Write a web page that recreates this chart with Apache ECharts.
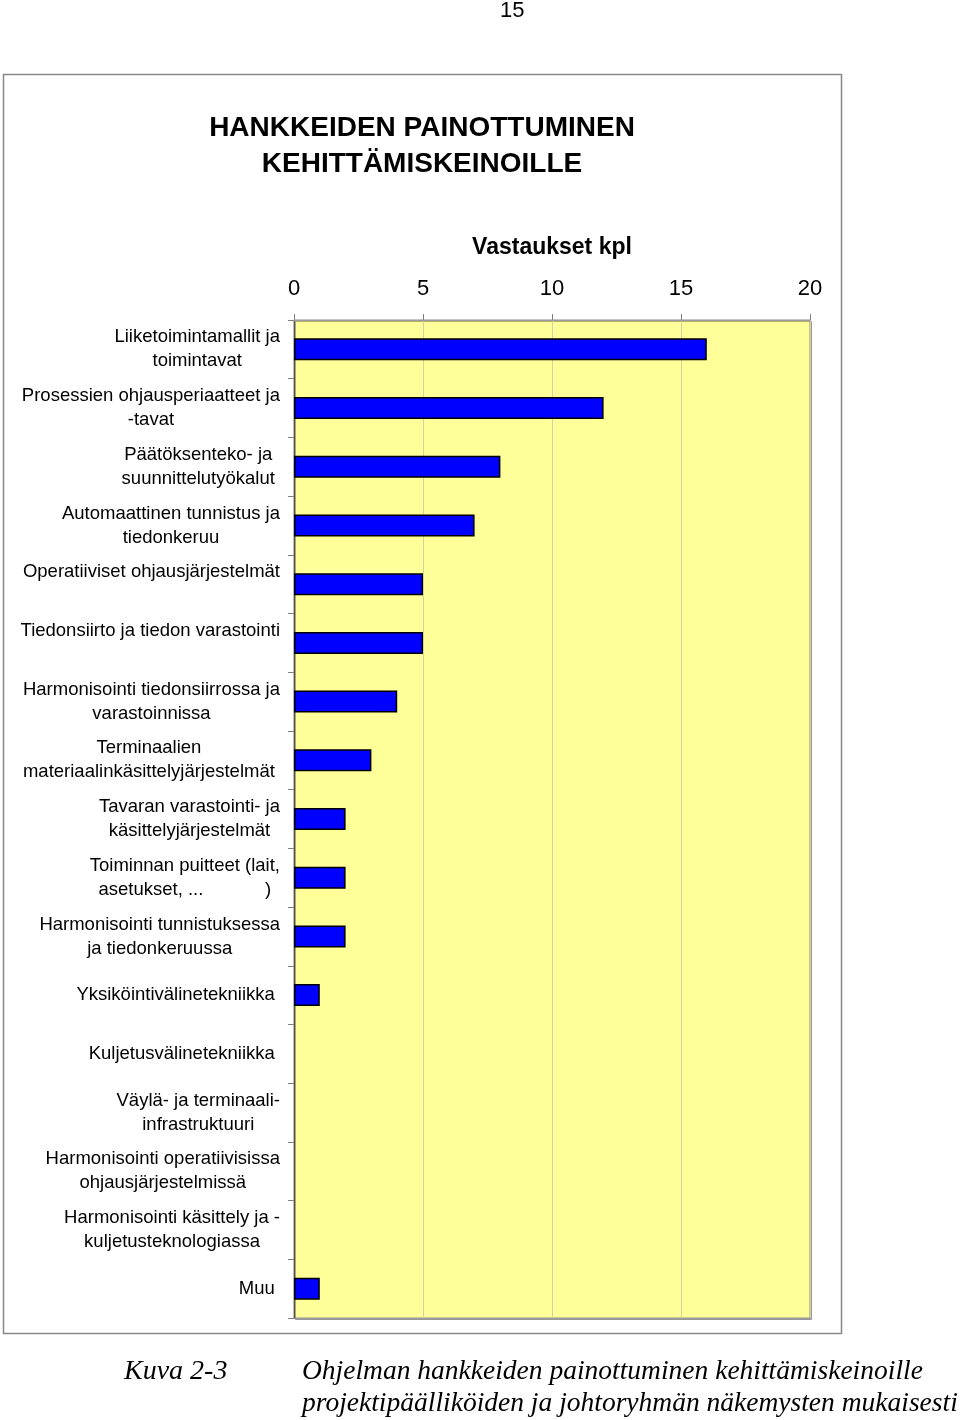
<!DOCTYPE html>
<html>
<head>
<meta charset="utf-8">
<script src="https://cdn.jsdelivr.net/npm/echarts@6/dist/echarts.min.js"></script>
<style>
html,body{margin:0;padding:0;background:#fff;}
#chart{width:960px;height:1420px;}
</style>
</head>
<body>
<div id="chart"></div>
<script>
const categories = [
  "Liiketoimintamallit ja\ntoimintavat",
  "Prosessien ohjausperiaatteet ja\n-tavat",
  "Päätöksenteko- ja \nsuunnittelutyökalut ",
  "Automaattinen tunnistus ja\ntiedonkeruu",
  "Operatiiviset ohjausjärjestelmät\n ",
  "Tiedonsiirto ja tiedon varastointi\n ",
  "Harmonisointi tiedonsiirrossa ja\nvarastoinnissa",
  "Terminaalien \nmateriaalinkäsittelyjärjestelmät ",
  "Tavaran varastointi- ja\nkäsittelyjärjestelmät",
  "Toiminnan puitteet (lait,\nasetukset, ...            )",
  "Harmonisointi tunnistuksessa\nja tiedonkeruussa",
  "Yksiköintivälinetekniikka ",
  "Kuljetusvälinetekniikka ",
  "Väylä- ja terminaali-\ninfrastruktuuri",
  "Harmonisointi operatiivisissa\nohjausjärjestelmissä",
  "Harmonisointi käsittely ja -\nkuljetusteknologiassa",
  "Muu "
];
const values = [16, 12, 8, 7, 5, 5, 4, 3, 2, 2, 2, 1, 0, 0, 0, 0, 1];
const xTicks = [0, 5, 10, 15, 20];
const titleText = "HANKKEIDEN PAINOTTUMINEN\nKEHITTÄMISKEINOILLE";
const axisTitle = "Vastaukset kpl";
const pageNumber = "15";
const captionLabel = "Kuva 2-3";
const captionLines = [
  "Ohjelman hankkeiden painottuminen kehittämiskeinoille",
  "projektipäälliköiden ja johtoryhmän näkemysten mukaisesti"
];

const chart = echarts.init(document.getElementById('chart'), null, {renderer: 'canvas'});
const sans = '"Liberation Sans", Arial, sans-serif';
const serif = '"Liberation Serif", "Times New Roman", serif';

const barData = values.map(v => v === 0 ? {value: v, itemStyle: {borderWidth: 0}} : v);

chart.setOption({
  animation: false,
  backgroundColor: '#ffffff',
  title: {
    text: titleText,
    left: 417, top: 105, textAlign: 'center',
    textStyle: {fontFamily: sans, fontSize: 28, fontWeight: 'bold', color: '#000', lineHeight: 36}
  },
  grid: {
    left: 294, top: 320, right: 150, bottom: 102,
    show: true, backgroundColor: '#FFFF99',
    borderColor: '#8a8a8a', borderWidth: 1,
    shadowColor: 'rgba(0,0,0,0.3)', shadowOffsetX: 1.5, shadowOffsetY: 1.5, shadowBlur: 0
  },
  xAxis: {
    type: 'value', position: 'top', min: 0, max: 20, interval: 5,
    name: axisTitle, nameLocation: 'middle', nameGap: 61,
    nameTextStyle: {fontFamily: sans, fontSize: 23, fontWeight: 'bold', color: '#000'},
    axisLine: {show: true, lineStyle: {color: '#9a9a9a', width: 1}},
    axisTick: {show: true, length: 6, lineStyle: {color: '#808080'}},
    axisLabel: {
      margin: 20, fontFamily: sans, fontSize: 22, color: '#000',
      formatter: v => xTicks.indexOf(v) >= 0 ? String(v) : ''
    },
    splitLine: {show: true, lineStyle: {color: '#d2d2a0', width: 1}}
  },
  yAxis: {
    type: 'category', data: categories, inverse: true,
    axisLine: {show: true, lineStyle: {color: '#555', width: 1.2}},
    axisTick: {show: true, length: 6, lineStyle: {color: '#808080'}},
    axisLabel: {
      margin: 14, fontFamily: sans, fontSize: 18.5, color: '#000', lineHeight: 24,
      formatter: s => s.split('\n').map(l => '{c|' + l + '}').join('\n'),
      rich: {c: {align: 'center', fontFamily: sans, fontSize: 18.5, color: '#000', lineHeight: 24}}
    },
    splitLine: {show: false}
  },
  series: [{
    type: 'bar', data: barData, barWidth: 22,
    itemStyle: {color: '#0000FF', borderColor: '#000', borderWidth: 1.5},
    emphasis: {disabled: true}
  }],
  graphic: [
    {type: 'rect', silent: true, z: -10, shape: {x: 3.5, y: 74.5, width: 838, height: 1259},
     style: {fill: null, stroke: '#888', lineWidth: 1.5}},
    {type: 'text', left: 500, top: 0, style: {text: pageNumber, font: '22px ' + sans, fill: '#000'}},
    {type: 'text', left: 124, top: 1358, style: {text: captionLabel, font: 'italic 28px ' + serif, fill: '#000'}},
    {type: 'text', left: 302, top: 1358, style: {text: captionLines[0], font: 'italic 27.5px ' + serif, fill: '#000'}},
    {type: 'text', left: 302, top: 1390, style: {text: captionLines[1], font: 'italic 27.5px ' + serif, fill: '#000'}}
  ]
});
</script>
</body>
</html>
